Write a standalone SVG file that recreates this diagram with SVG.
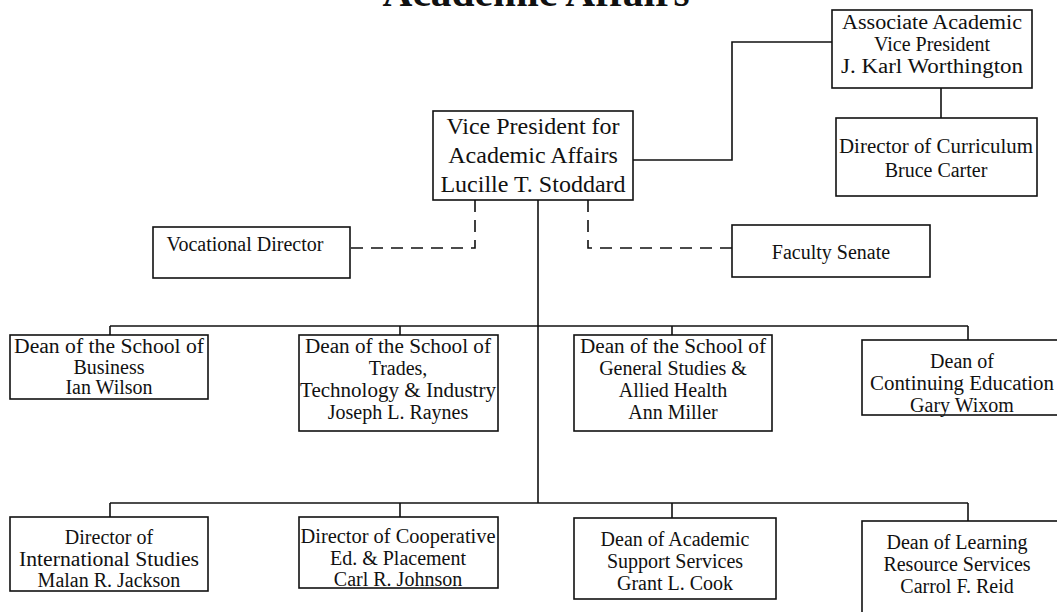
<svg xmlns="http://www.w3.org/2000/svg" width="1057" height="612" viewBox="0 0 1057 612">
<style>
.box{fill:#fff;stroke:#111;stroke-width:1.6}
.t{font-family:"Liberation Serif","Times New Roman",serif;font-size:20px;fill:#111;text-anchor:middle}
.vp{font-size:24px}
.title{font-family:"Liberation Serif","Times New Roman",serif;font-size:40px;font-weight:bold;fill:#111;text-anchor:middle}
.ln{fill:none;stroke:#111;stroke-width:1.6}
.dash{fill:none;stroke:#111;stroke-width:1.6;stroke-dasharray:12 8}
</style>
<rect width="1057" height="612" fill="#fff"/>
<text class="title" x="536" y="6" textLength="307" lengthAdjust="spacingAndGlyphs">Academic Affairs</text>

<g id="connectors">
<polyline class="ln" points="633,160 732,160 732,42 832,42"/>
<line class="ln" x1="941" y1="88" x2="941" y2="118"/>
<polyline class="dash" points="475,200 475,248 350,248"/>
<polyline class="dash" points="588,200 588,248 732,248"/>
<line class="ln" x1="538" y1="200" x2="538" y2="503"/>
<line class="ln" x1="110" y1="326" x2="968" y2="326"/>
<line class="ln" x1="110" y1="326" x2="110" y2="335"/>
<line class="ln" x1="400" y1="326" x2="400" y2="335"/>
<line class="ln" x1="672" y1="326" x2="672" y2="335"/>
<line class="ln" x1="968" y1="326" x2="968" y2="340"/>
<line class="ln" x1="110" y1="503" x2="968" y2="503"/>
<line class="ln" x1="110" y1="503" x2="110" y2="517"/>
<line class="ln" x1="400" y1="503" x2="400" y2="517"/>
<line class="ln" x1="672" y1="503" x2="672" y2="518"/>
<line class="ln" x1="968" y1="503" x2="968" y2="521"/>
</g>

<g id="vp">
<rect class="box" x="433" y="111" width="200" height="89"/>
<text class="t vp" x="533" y="134">Vice President for</text>
<text class="t vp" x="533" y="163">Academic Affairs</text>
<text class="t vp" x="533" y="192">Lucille T. Stoddard</text>
</g>

<g id="assoc">
<rect class="box" x="832" y="10" width="200" height="78"/>
<text class="t" x="932" y="29" textLength="180" lengthAdjust="spacingAndGlyphs">Associate Academic</text>
<text class="t" x="932" y="51">Vice President</text>
<text class="t" x="932" y="73" textLength="182" lengthAdjust="spacingAndGlyphs">J. Karl Worthington</text>
</g>

<g id="curriculum">
<rect class="box" x="836" y="118" width="201" height="78"/>
<text class="t" x="936" y="153" textLength="194" lengthAdjust="spacingAndGlyphs">Director of Curriculum</text>
<text class="t" x="936" y="177">Bruce Carter</text>
</g>

<g id="vocational">
<rect class="box" x="153" y="227" width="197" height="51"/>
<text class="t" x="245" y="251">Vocational Director</text>
</g>

<g id="senate">
<rect class="box" x="732" y="225" width="198" height="52"/>
<text class="t" x="831" y="259">Faculty Senate</text>
</g>

<g id="business">
<rect class="box" x="10" y="335" width="198" height="64"/>
<text class="t" x="109" y="353" textLength="190" lengthAdjust="spacingAndGlyphs">Dean of the School of</text>
<text class="t" x="109" y="374">Business</text>
<text class="t" x="109" y="394">Ian Wilson</text>
</g>

<g id="trades">
<rect class="box" x="299" y="335" width="199" height="96"/>
<text class="t" x="398" y="353" textLength="186" lengthAdjust="spacingAndGlyphs">Dean of the School of</text>
<text class="t" x="398" y="375">Trades,</text>
<text class="t" x="398" y="397" textLength="196" lengthAdjust="spacingAndGlyphs">Technology &amp; Industry</text>
<text class="t" x="398" y="419">Joseph L. Raynes</text>
</g>

<g id="general">
<rect class="box" x="574" y="335" width="198" height="96"/>
<text class="t" x="673" y="353" textLength="186" lengthAdjust="spacingAndGlyphs">Dean of the School of</text>
<text class="t" x="673" y="375">General Studies &amp;</text>
<text class="t" x="673" y="397">Allied Health</text>
<text class="t" x="673" y="419">Ann Miller</text>
</g>

<g id="continuing">
<rect class="box" x="862" y="340" width="210" height="75"/>
<text class="t" x="962" y="368">Dean of</text>
<text class="t" x="962" y="390" textLength="184" lengthAdjust="spacingAndGlyphs">Continuing Education</text>
<text class="t" x="962" y="412">Gary Wixom</text>
</g>

<g id="international">
<rect class="box" x="10" y="517" width="198" height="74"/>
<text class="t" x="109" y="544">Director of</text>
<text class="t" x="109" y="566" textLength="180" lengthAdjust="spacingAndGlyphs">International Studies</text>
<text class="t" x="109" y="587">Malan R. Jackson</text>
</g>

<g id="cooperative">
<rect class="box" x="299" y="517" width="199" height="71"/>
<text class="t" x="398" y="543" textLength="195" lengthAdjust="spacingAndGlyphs">Director of Cooperative</text>
<text class="t" x="398" y="565">Ed. &amp; Placement</text>
<text class="t" x="398" y="586">Carl R. Johnson</text>
</g>

<g id="support">
<rect class="box" x="574" y="518" width="202" height="81"/>
<text class="t" x="675" y="546">Dean of Academic</text>
<text class="t" x="675" y="568">Support Services</text>
<text class="t" x="675" y="590">Grant L. Cook</text>
</g>

<g id="learning">
<rect class="box" x="862" y="521" width="210" height="100"/>
<text class="t" x="957" y="549">Dean of Learning</text>
<text class="t" x="957" y="571">Resource Services</text>
<text class="t" x="957" y="593">Carrol F. Reid</text>
</g>
</svg>
